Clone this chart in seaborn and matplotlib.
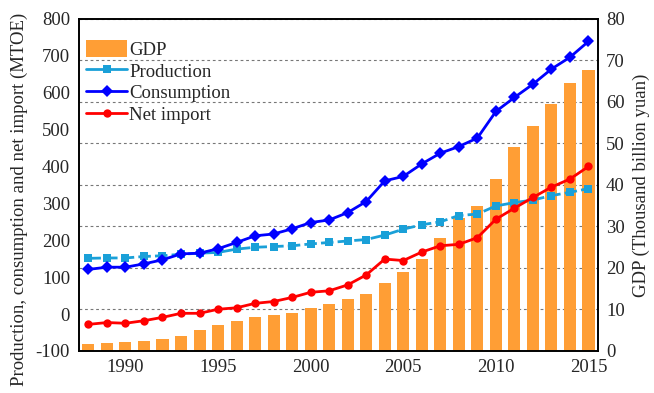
import matplotlib
matplotlib.use("Agg")
import matplotlib.pyplot as plt
import seaborn as sns
import pandas as pd
from matplotlib.patches import Patch
from matplotlib.lines import Line2D

years = list(range(1988, 2016))
gdp = [1.7, 1.85, 2.1, 2.4, 2.9, 3.7, 5.1, 6.3, 7.2, 8.1, 8.7, 9.2, 10.3, 11.2, 12.5,
       13.7, 16.3, 18.9, 22.1, 27.2, 32.0, 35.0, 41.4, 49.2, 54.1, 59.6, 64.6, 67.8]
production = [151, 152, 152, 156, 158, 162, 165, 167, 176, 181, 183, 185, 190, 194, 198,
              202, 214, 230, 242, 250, 267, 271, 293, 302, 309, 321, 330, 340]
consumption = [121, 127, 127, 136, 147, 163, 165, 177, 194, 212, 217, 231, 248, 255, 275,
               305, 361, 373, 407, 436, 454, 477, 549, 587, 623, 664, 696, 739]
net_import = [-28, -23, -25, -18, -9, 2, 2, 13, 17, 29, 34, 45, 59, 63, 79,
              106, 149, 145, 168, 185, 189, 207, 257, 287, 316, 344, 366, 400]

df = pd.DataFrame({"year": years, "gdp": gdp, "production": production,
                   "consumption": consumption, "net_import": net_import})

sns.set_style("white")
plt.rcParams["font.family"] = ["Liberation Serif", "DejaVu Serif"]
plt.rcParams["axes.unicode_minus"] = False
FS = 13.5
plt.rcParams["font.size"] = FS

fig = plt.figure(figsize=(6.54, 3.93), dpi=100)
ax1 = fig.add_axes([0.121, 0.107, 0.793, 0.845])
ax2 = ax1.twinx()

c_bar = "#FF9E35"
c_prod = "#1AA0D8"
c_cons = "#0000FF"
c_imp = "#FF0000"

sns.barplot(data=df, x="year", y="gdp", native_scale=True, ax=ax2, color=c_bar,
            saturation=1, width=0.65, linewidth=0, zorder=2)
ax2.set_ylim(0, 80)
ax2.set_yticks(range(0, 81, 10))
ax2.set_axisbelow(True)
ax2.yaxis.grid(True, linestyle=(0, (2.5, 2.5)), color="#777777", linewidth=0.8)
ax2.set_ylabel("GDP (Thousand billion yuan)", fontsize=FS, labelpad=6)

sns.lineplot(data=df, x="year", y="production", ax=ax1, color=c_prod, marker="s",
             markersize=6, markeredgewidth=0, linewidth=2, linestyle=(0, (4.5, 1.5)))
sns.lineplot(data=df, x="year", y="consumption", ax=ax1, color=c_cons, marker="D",
             markersize=6, markeredgewidth=0, linewidth=2)
sns.lineplot(data=df, x="year", y="net_import", ax=ax1, color=c_imp, marker="o",
             markersize=6, markeredgewidth=0, linewidth=2)

ax1.set_zorder(ax2.get_zorder() + 1)
ax1.patch.set_visible(False)
ax1.set_ylim(-100, 800)
ax1.set_yticks(range(-100, 801, 100))
ax1.set_xlim(1987.5, 2015.5)
ax1.set_xticks(range(1990, 2016, 5))
ax1.set_xlabel("")
ax1.set_ylabel("Production, consumption and net import (MTOE)", fontsize=FS)
ax1.yaxis.set_label_coords(-0.098, 0.455)
ax2.set_xlabel("")

for ax in (ax1, ax2):
    ax.tick_params(axis="both", length=0, labelsize=FS)
    for s in ax.spines.values():
        s.set_visible(True)
        s.set_color("black")
        s.set_linewidth(1.2)
ax1.tick_params(axis="y", pad=6.5)
ax1.tick_params(axis="x", pad=6)
ax2.tick_params(axis="y", pad=6)

handles = [
    Patch(facecolor=c_bar, edgecolor="none"),
    Line2D([], [], color=c_prod, marker="s", markersize=6, markeredgewidth=0, linewidth=2),
    Line2D([], [], color=c_cons, marker="D", markersize=6, markeredgewidth=0, linewidth=2),
    Line2D([], [], color=c_imp, marker="o", markersize=6, markeredgewidth=0, linewidth=2),
]
labels = ["GDP", "Production", "Consumption", "Net import"]
ax1.legend(handles, labels, loc="upper left", frameon=False, fontsize=FS,
           handlelength=2.2, handleheight=1.0, labelspacing=0.15, handletextpad=0.1,
           borderaxespad=0.3, bbox_to_anchor=(-0.012, 0.975))

fig.savefig("out.png", dpi=100)
